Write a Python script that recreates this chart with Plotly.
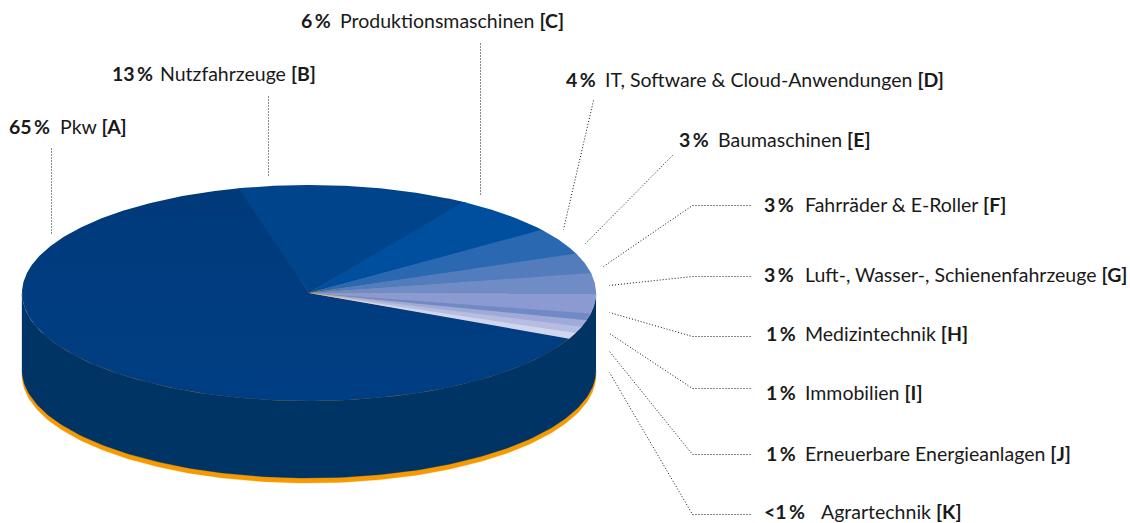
import numpy as np
import plotly.graph_objects as go

# ---- data ----
value_labels = ["65 %", "13 %", "6 %", "4 %", "3 %", "3 %", "3 %", "1 %", "1 %", "1 %", "<1 %"]
categories = ["Pkw", "Nutzfahrzeuge", "Produktionsmaschinen", "IT, Software & Cloud-Anwendungen",
              "Baumaschinen", "Fahrräder & E-Roller", "Luft-, Wasser-, Schienenfahrzeuge",
              "Medizintechnik", "Immobilien", "Erneuerbare Energieanlagen", "Agrartechnik"]
tags = ["A", "B", "C", "D", "E", "F", "G", "H", "I", "J", "K"]
shares = [64.1, 13.0, 6.0, 4.0, 3.0, 3.0, 3.0, 1.0, 1.0, 1.0, 0.9]

# ---- style ----
colors = ["#003d80", "#00458b", "#004f9f", "#2a69b2", "#527cbc", "#708cc6",
          "#8b9ad0", "#718ac6", "#a0aad9", "#b5bde2", "#d2d5ee"]
side_color = "#003465"
base_color = "#f59a00"
text_color = "#1a1a1a"
font_family = "Lato"
font_size = 19.5

# ---- geometry (pixels) ----
W, H = 1130, 523
cx, cy, rx, ry = 309.0, 293.0, 287.0, 108.0
depth, base_extra = 77.0, 5.0
start_deg = 25.0
overlap_deg = 0.6

value_x = [9, 112, 301, 566, 679, 764, 764, 766, 766, 766, 764]
name_x = [60, 160, 340, 605, 718, 805, 805, 805, 805, 805, 821]
label_y = [126, 73, 20, 79, 139, 204, 274, 333, 392, 453, 511]
leaders = [
    [(51, 148), (51, 233)],
    [(268, 96), (268, 176)],
    [(480, 43), (480, 195)],
    [(593, 100), (563, 229)],
    [(672, 155), (585, 243)],
    [(750, 205), (692, 205), (603, 266)],
    [(750, 276), (692, 276), (609, 285)],
    [(750, 336), (692, 336), (609, 312)],
    [(750, 388), (692, 388), (609, 333)],
    [(750, 454), (692, 454), (609, 351)],
    [(750, 514), (692, 514), (609, 372)],
]

fig = go.Figure()


def add_poly(x, y, color, name, lw=0.3, **kw):
    fig.add_trace(go.Scatter(x=x, y=y, mode="lines", fill="toself", fillcolor=color,
                             line=dict(color=color, width=lw), name=name, hoverinfo="name", **kw))


t = np.radians(np.linspace(0, 360, 361))
# orange base
add_poly(cx + rx * np.cos(t), cy + depth + base_extra + ry * np.sin(t), base_color, "Basis")
# side wall: front half of the ellipse, extruded
front = np.radians(np.linspace(0, 180, 181))
sx = np.concatenate([cx + rx * np.cos(front), (cx + rx * np.cos(front))[::-1]])
sy = np.concatenate([cy + depth + ry * np.sin(front), (cy + ry * np.sin(front))[::-1]])
add_poly(sx, sy, side_color, "Seite")

# top wedges driven by the shares; each runs slightly under the next so no seam shows
edges = start_deg + np.concatenate([[0], np.cumsum(shares)]) * 3.6
last = len(categories) - 1
for i, cat in enumerate(categories):
    a0 = edges[i] - (overlap_deg if i == 0 else 0)
    a1 = edges[i + 1] + (overlap_deg if i < last else 0)
    a = np.radians(np.linspace(a0, a1, max(4, int((a1 - a0) * 2))))
    x = np.concatenate([[cx], cx + rx * np.cos(a), [cx]])
    y = np.concatenate([[cy], cy + ry * np.sin(a), [cy]])
    kw = {}
    if i == 0:
        kw["fillgradient"] = dict(type="vertical", colorscale=[[0, "#003e83"], [1, "#003a7b"]])
    add_poly(x, y, colors[i], f"{cat} [{tags[i]}]", lw=0, **kw)

# leader lines
for pts in leaders:
    fig.add_trace(go.Scatter(x=[p[0] + 0.5 for p in pts], y=[p[1] + 0.5 for p in pts], mode="lines",
                             line=dict(color="#111111", width=1, dash="1px 2px"), hoverinfo="skip"))

# labels
ann = []
for vl, cat, tag, vx, nx, ly in zip(value_labels, categories, tags, value_x, name_x, label_y):
    ann.append(dict(x=vx, y=ly, xref="x", yref="y", xanchor="left", yanchor="middle", showarrow=False,
                    text=f"<b>{vl.replace(' ', chr(0x2009))}</b>", xshift=-2,
                    font=dict(family=font_family, size=font_size, color=text_color)))
    ann.append(dict(x=nx, y=ly, xref="x", yref="y", xanchor="left", yanchor="middle", showarrow=False,
                    text=f"{cat} <b>[{tag}]</b>", xshift=-2,
                    font=dict(family=font_family, size=font_size, color=text_color)))

fig.update_layout(
    width=W, height=H, margin=dict(l=0, r=0, t=0, b=0),
    paper_bgcolor="white", plot_bgcolor="white", showlegend=False,
    xaxis=dict(range=[0, W], visible=False, fixedrange=True),
    yaxis=dict(range=[H, 0], visible=False, fixedrange=True),
    annotations=ann,
)
fig.write_html("out.html", config={"displayModeBar": False},
               post_script="document.body.style.margin='0';document.body.style.overflow='hidden';")
